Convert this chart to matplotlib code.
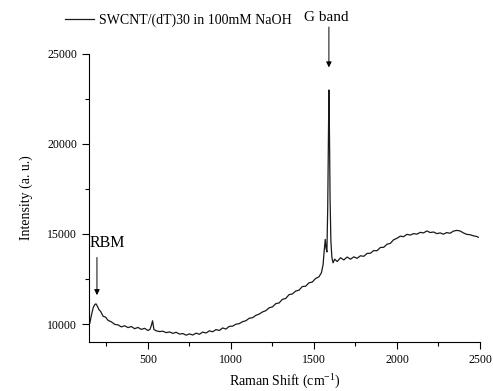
import matplotlib
matplotlib.use("Agg")
import matplotlib.pyplot as plt
from matplotlib.ticker import MultipleLocator

plt.rcParams["font.family"] = ["Liberation Serif", "DejaVu Serif"]

# Raman spectrum (cm^-1, counts)
shift = [150, 160, 170, 180, 187, 195, 205, 215, 230, 245,
         260, 280, 300, 320, 340, 360, 380, 400, 420, 440,
         460, 480, 500, 512, 520, 528, 536, 550, 570, 590,
         610, 630, 650, 670, 690, 710, 730, 750, 770, 790,
         810, 830, 850, 870, 890, 910, 930, 950, 970, 990,
         1010, 1030, 1050, 1070, 1090, 1110, 1130, 1150, 1170, 1190,
         1210, 1230, 1250, 1270, 1290, 1310, 1330, 1350, 1370, 1390,
         1410, 1430, 1450, 1470, 1490, 1510, 1530, 1545, 1555, 1562,
         1568, 1573, 1578, 1583, 1587, 1590, 1593, 1597, 1602, 1608,
         1615, 1625, 1640, 1660, 1680, 1700, 1720, 1740, 1760, 1780,
         1800, 1820, 1840, 1860, 1880, 1900, 1920, 1940, 1960, 1980,
         2000, 2020, 2040, 2060, 2080, 2100, 2120, 2140, 2160, 2180,
         2200, 2220, 2240, 2260, 2280, 2300, 2320, 2340, 2360, 2380,
         2400, 2420, 2440, 2460, 2480, 2490]
intensity = [10050, 10500, 10900, 11080, 11120, 11000, 10800, 10700, 10430, 10380,
             10200, 10120, 9980, 9950, 9840, 9900, 9800, 9860, 9740, 9810,
             9700, 9760, 9640, 9700, 9900, 10180, 9700, 9620, 9580, 9600,
             9520, 9560, 9480, 9540, 9440, 9470, 9380, 9450, 9390, 9490,
             9430, 9550, 9500, 9620, 9570, 9690, 9640, 9780, 9720, 9870,
             9880, 9990, 10020, 10130, 10180, 10320, 10350, 10480, 10550, 10670,
             10740, 10900, 10950, 11130, 11170, 11370, 11420, 11630, 11670, 11830,
             11880, 12080, 12100, 12290, 12330, 12530, 12620, 12850, 13300, 14100,
             14700, 14200, 14000, 16500, 20500, 23000, 21000, 17000, 14600, 13700,
             13400, 13600, 13470, 13680, 13560, 13720, 13600, 13730, 13650, 13790,
             13760, 13920, 13930, 14080, 14070, 14250, 14260, 14430, 14480, 14680,
             14760, 14880, 14850, 14980, 14940, 15020, 14990, 15090, 15060, 15170,
             15080, 15110, 15020, 15060, 14990, 15080, 15040, 15160, 15200, 15170,
             15060, 14980, 14960, 14900, 14860, 14820]

label = "SWCNT/(dT)30 in 100mM NaOH"

fig = plt.figure(figsize=(4.93, 3.91), dpi=100)
ax = fig.add_axes([0.1805, 0.1253, 0.7931, 0.7367])

line, = ax.plot(shift, intensity, color="#1a1a1a", lw=0.9)

ax.set_xlim(145, 2500)
ax.set_ylim(9000, 25000)
ax.xaxis.set_major_locator(MultipleLocator(500))
ax.xaxis.set_minor_locator(MultipleLocator(250))
ax.yaxis.set_major_locator(MultipleLocator(5000))
ax.yaxis.set_minor_locator(MultipleLocator(2500))
ax.tick_params(which="both", direction="out", labelsize=8.5, width=0.8)
ax.tick_params(which="major", length=5)
ax.tick_params(which="minor", length=3)
for side in ("top", "right"):
    ax.spines[side].set_visible(False)

ax.set_xlabel("Raman Shift (cm$^{\\mathregular{-1}}$)", fontsize=10, labelpad=4)
ax.set_ylabel("Intensity (a. u.)", fontsize=10, labelpad=10)

arrow = dict(arrowstyle="-|>", color="black", lw=0.7, mutation_scale=8)
ax.annotate("", xy=(193, 11450), xytext=(193, 13850), arrowprops=arrow)
ax.text(148, 14500, "RBM", fontsize=11.5, va="center", ha="left")
ax.annotate("", xy=(1590, 24100), xytext=(1590, 26650), arrowprops=arrow,
            annotation_clip=False)
ax.text(1575, 27050, "G band", fontsize=11, va="center", ha="center")

fig.legend(handles=[line], labels=[label], loc="center left",
           bbox_to_anchor=(0.106, 0.949), frameon=False, fontsize=10,
           handlelength=2.1, handletextpad=0.35)

fig.savefig("out.png", dpi=100)
